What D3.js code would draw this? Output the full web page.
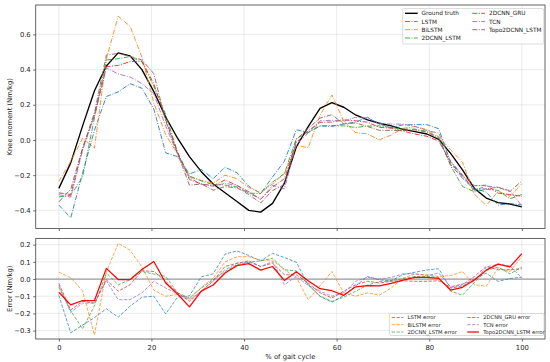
<!DOCTYPE html>
<html><head><meta charset="utf-8">
<script src="https://cdn.jsdelivr.net/npm/d3@7"></script>
<style>
body{margin:0;background:#fff}
svg{display:block}
text{font-family:"DejaVu Sans",sans-serif;fill:#222}
</style>
</head><body>
<svg id="c" width="550" height="362"></svg>
<script>
// ---------------- data ----------------
const gaitPct = d3.range(40).map(i => i * 100 / 39); // sample positions (% of gait cycle)
const groundTruth = [-0.275,-0.13,0.08,0.28,0.42,0.495,0.478,0.40,0.275,0.13,0.01,-0.095,-0.18,-0.25,-0.30,-0.35,-0.40,-0.41,-0.36,-0.245,-0.04,0.076,0.18,0.212,0.186,0.142,0.114,0.095,0.08,0.06,0.047,0.034,0.004,-0.076,-0.17,-0.275,-0.33,-0.356,-0.364,-0.38];
const lstmPred = [-0.37,-0.443,-0.188,0.055,0.247,0.273,0.32,0.294,0.175,-0.073,-0.095,-0.193,-0.167,-0.22,-0.155,-0.186,-0.263,-0.304,-0.21,-0.12,0.058,0.043,0.08,0.077,0.091,0.102,0.129,0.09,0.07,0.086,0.087,0.087,0.064,-0.129,-0.211,-0.274,-0.296,-0.37,-0.361,-0.369];
const bilstmPred = [-0.235,-0.122,0.01,-0.046,0.46,0.703,0.646,0.47,0.21,0.03,-0.08,-0.21,-0.23,-0.245,-0.20,-0.22,-0.27,-0.30,-0.25,-0.191,-0.03,-0.044,0.14,0.256,0.106,0.042,0.034,0.001,0.028,0.066,0.076,0.059,0.019,-0.056,-0.126,-0.308,-0.372,-0.292,-0.32,-0.249];
const cnnLstmPred = [-0.323,-0.315,-0.21,0.125,0.455,0.462,0.474,0.444,0.304,0.145,-0.07,-0.205,-0.232,-0.254,-0.256,-0.267,-0.302,-0.304,-0.239,-0.191,0.008,0.043,0.08,0.082,0.08,0.071,0.079,0.08,0.07,0.062,0.062,0.049,0.014,-0.147,-0.264,-0.295,-0.28,-0.286,-0.334,-0.31];
const cnnGruPred = [-0.30,-0.31,-0.05,0.14,0.416,0.424,0.445,0.448,0.319,0.117,-0.07,-0.225,-0.25,-0.26,-0.227,-0.258,-0.294,-0.337,-0.268,-0.22,-0.015,0.053,0.10,0.102,0.115,0.109,0.101,0.072,0.067,0.05,0.034,0.021,-0.006,-0.124,-0.203,-0.26,-0.257,-0.302,-0.31,-0.32];
const tcnPred = [-0.31,-0.325,-0.06,0.14,0.41,0.375,0.358,0.32,0.262,0.078,-0.08,-0.215,-0.251,-0.263,-0.246,-0.258,-0.302,-0.337,-0.258,-0.278,-0.025,0.039,0.109,0.112,0.106,0.129,0.124,0.095,0.09,0.09,0.077,0.054,0.039,-0.121,-0.198,-0.288,-0.261,-0.269,-0.288,-0.375];
const topoPred = [-0.352,-0.28,-0.045,0.155,0.482,0.492,0.475,0.455,0.377,0.107,-0.077,-0.257,-0.25,-0.285,-0.265,-0.272,-0.31,-0.358,-0.287,-0.253,0.002,0.066,0.124,0.144,0.091,0.097,0.076,0.055,0.055,0.054,0.057,0.044,0.008,-0.14,-0.218,-0.281,-0.278,-0.269,-0.293,-0.232];

const lstmErr = [-0.095,-0.313,-0.268,-0.225,-0.173,-0.222,-0.158,-0.106,-0.10,-0.203,-0.105,-0.098,0.013,0.03,0.145,0.164,0.137,0.106,0.15,0.125,0.098,-0.033,-0.10,-0.135,-0.095,-0.04,0.015,-0.005,-0.01,0.026,0.04,0.053,0.06,-0.053,-0.041,0.001,0.034,-0.014,0.003,0.011];
const bilstmErr = [0.04,0.008,-0.07,-0.326,0.04,0.208,0.168,0.07,-0.065,-0.10,-0.09,-0.115,-0.05,0.005,0.10,0.13,0.13,0.11,0.11,0.054,0.01,-0.12,-0.04,0.044,-0.08,-0.10,-0.08,-0.094,-0.052,0.006,0.029,0.025,0.015,0.02,0.044,-0.033,-0.042,0.064,0.044,0.131];
const cnnLstmErr = [-0.048,-0.185,-0.29,-0.155,0.035,-0.033,-0.004,0.044,0.029,0.015,-0.08,-0.11,-0.052,-0.004,0.044,0.083,0.098,0.106,0.121,0.054,0.048,-0.033,-0.10,-0.13,-0.106,-0.071,-0.035,-0.015,-0.01,0.002,0.015,0.015,0.01,-0.071,-0.094,-0.02,0.05,0.07,0.03,0.07];
const cnnGruErr = [-0.025,-0.18,-0.13,-0.14,-0.004,-0.071,-0.033,0.048,0.044,-0.013,-0.08,-0.13,-0.07,-0.01,0.073,0.092,0.106,0.073,0.092,0.025,0.025,-0.023,-0.08,-0.11,-0.071,-0.033,-0.013,-0.023,-0.013,-0.01,-0.013,-0.013,-0.01,-0.048,-0.033,0.015,0.073,0.054,0.054,0.06];
const tcnErr = [-0.035,-0.195,-0.14,-0.14,-0.01,-0.12,-0.12,-0.08,-0.013,-0.052,-0.09,-0.12,-0.071,-0.013,0.054,0.092,0.098,0.073,0.102,-0.033,0.015,-0.037,-0.071,-0.10,-0.08,-0.013,0.01,0.0,0.01,0.03,0.03,0.02,0.035,-0.045,-0.028,-0.013,0.069,0.087,0.076,0.005];
const topoErr = [-0.077,-0.15,-0.125,-0.125,0.062,-0.003,-0.003,0.055,0.102,-0.023,-0.087,-0.162,-0.07,-0.035,0.035,0.078,0.09,0.052,0.073,-0.008,0.042,-0.01,-0.056,-0.068,-0.095,-0.045,-0.038,-0.04,-0.025,-0.006,0.01,0.01,0.004,-0.064,-0.048,-0.006,0.052,0.087,0.071,0.148];

const xTicks = [0,20,40,60,80,100];
const topTicks = [-0.4,-0.2,0.0,0.2,0.4,0.6];
const botTicks = [-0.3,-0.2,-0.1,0.0,0.1,0.2];

const modelNames = ["LSTM","BiLSTM","2DCNN_LSTM","2DCNN_GRU","TCN","Topo2DCNN_LSTM"];
const modelColors = ["#1f77b4","#ff7f0e","#2ca02c","#d62728","#9467bd","#8c564b"];
const errorNames = ["LSTM error","BiLSTM error","2DCNN_LSTM error","2DCNN_GRU error","TCN error","Topo2DCNN_LSTM error"];
const errorColors = ["#1f77b4","#ff7f0e","#2ca02c","#d62728","#9467bd","#ff0000"];
const preds = [lstmPred,bilstmPred,cnnLstmPred,cnnGruPred,tcnPred,topoPred];
const errs = [lstmErr,bilstmErr,cnnLstmErr,cnnGruErr,tcnErr,topoErr];

// ---------------- layout ----------------
const svg = d3.select("#c");
const L = 35.7, R = 545;
const T1 = 5, B1 = 228.5, T2 = 238.5, B2 = 339;
const x = d3.scaleLinear().domain([-5,105]).range([L,R]);
const yTop = d3.scaleLinear().domain([-0.503,0.767]).range([B1,T1]);
const yBot = d3.scaleLinear().domain([-0.349,0.236]).range([B2,T2]);
const fmt = d3.format(".1f");
const DASHDOT = "5,1.5,1,1.5", DASHED = "3.3,1.5";
const TICK_FS = 6.8, LABEL_FS = 6.8;

function panel(y, T, B, ticks) {
  const g = svg.append("g");
  g.selectAll(null).data(xTicks).join("line")
    .attr("x1", d => x(d)).attr("x2", d => x(d)).attr("y1", T).attr("y2", B)
    .attr("stroke", "#b0b0b0").attr("stroke-opacity", 0.3).attr("stroke-width", 0.8);
  g.selectAll(null).data(ticks).join("line")
    .attr("x1", L).attr("x2", R).attr("y1", d => y(d)).attr("y2", d => y(d))
    .attr("stroke", "#b0b0b0").attr("stroke-opacity", 0.3).attr("stroke-width", 0.8);
  return g;
}
function frame(y, T, B, ticks, showX) {
  const g = svg.append("g");
  const ay = g.append("g").attr("transform", `translate(${L},0)`)
    .call(d3.axisLeft(y).tickValues(ticks).tickFormat(fmt).tickSize(2.5).tickPadding(2.5));
  const ax = g.append("g").attr("transform", `translate(0,${B})`)
    .call(d3.axisBottom(x).tickValues(xTicks).tickFormat(showX ? d3.format("d") : "").tickSize(2.5).tickPadding(3.5));
  [ay, ax].forEach(a => {
    a.select(".domain").remove();
    a.selectAll(".tick line").attr("stroke", "#444").attr("stroke-width", 0.8);
    a.selectAll(".tick text").attr("font-size", TICK_FS).attr("fill", "#222")
      .style("font-family", '"DejaVu Sans",sans-serif');
  });
  g.append("rect").attr("x", L).attr("y", T).attr("width", R - L).attr("height", B - T)
    .attr("fill", "none").attr("stroke", "#555").attr("stroke-width", 0.9);
}

// ---------------- top panel ----------------
panel(yTop, T1, B1, topTicks);
const lineTop = d3.line().x((d, i) => x(gaitPct[i])).y(d => yTop(d));
const gTop = svg.append("g");
gTop.append("path").attr("d", lineTop(groundTruth)).attr("fill", "none")
  .attr("stroke", "#000").attr("stroke-width", 1.35).attr("stroke-linejoin", "round");
preds.forEach((p, k) => {
  gTop.append("path").attr("d", lineTop(p)).attr("fill", "none")
    .attr("stroke", modelColors[k]).attr("stroke-opacity", 0.85).attr("stroke-width", 1)
    .attr("stroke-dasharray", DASHDOT);
});
frame(yTop, T1, B1, topTicks, false);

// ---------------- bottom panel ----------------
panel(yBot, T2, B2, botTicks);
const gBot = svg.append("g");
gBot.append("line").attr("x1", L).attr("x2", R).attr("y1", yBot(0)).attr("y2", yBot(0))
  .attr("stroke", "#888").attr("stroke-opacity", 0.8).attr("stroke-width", 1.2);
const lineBot = d3.line().x((d, i) => x(gaitPct[i])).y(d => yBot(d));
errs.forEach((e, k) => {
  const solid = k === 5;
  gBot.append("path").attr("d", lineBot(e)).attr("fill", "none")
    .attr("stroke", errorColors[k])
    .attr("stroke-opacity", solid ? 1 : 0.7)
    .attr("stroke-width", solid ? 1.25 : 1)
    .attr("stroke-dasharray", solid ? null : DASHED)
    .attr("stroke-linejoin", "round");
});
frame(yBot, T2, B2, botTicks, true);

// ---------------- labels ----------------
svg.append("text").attr("transform", `translate(12,${(T1 + B1) / 2}) rotate(-90)`)
  .attr("text-anchor", "middle").attr("font-size", LABEL_FS).text("Knee moment (Nm/kg)");
svg.append("text").attr("transform", `translate(12,${(T2 + B2) / 2}) rotate(-90)`)
  .attr("text-anchor", "middle").attr("font-size", LABEL_FS).text("Error (Nm/kg)");
svg.append("text").attr("x", (L + R) / 2).attr("y", 359)
  .attr("text-anchor", "middle").attr("font-size", LABEL_FS).text("% of gait cycle");

// ---------------- legends ----------------
function legend(box, items, fs) {
  const g = svg.append("g");
  g.append("rect").attr("x", box.x).attr("y", box.y).attr("width", box.w).attr("height", box.h)
    .attr("rx", 1.5).attr("fill", "#fff").attr("fill-opacity", 0.8)
    .attr("stroke", "#cfcfcf").attr("stroke-width", 0.7);
  items.forEach(it => {
    g.append("line").attr("x1", it.hx).attr("x2", it.hx + box.hl).attr("y1", it.y).attr("y2", it.y)
      .attr("stroke", it.color).attr("stroke-opacity", it.op).attr("stroke-width", it.w)
      .attr("stroke-dasharray", it.dash);
    g.append("text").attr("x", it.tx).attr("y", it.y).attr("dy", "0.35em")
      .attr("font-size", fs).text(it.label);
  });
}
const topRows = [13.3, 21.5, 29.7, 38];
const topItems = [{label: "Ground truth", color: "#000", op: 1, w: 1.35, dash: null}]
  .concat(modelNames.map((n, k) => ({label: n, color: modelColors[k], op: 0.85, w: 1, dash: DASHDOT})));
topItems.forEach((it, k) => {
  const col = k < 4 ? 0 : 1, row = k < 4 ? k : k - 4;
  it.y = topRows[row];
  it.hx = col === 0 ? 405 : 472.3;
  it.tx = col === 0 ? 421.5 : 489;
});
legend({x: 402.7, y: 8.5, w: 141, h: 35.5, hl: 12.7}, topItems, 5.8);

const botRows = [317.5, 324.7, 332];
const botItems = errorNames.map((n, k) => ({label: n, color: errorColors[k], op: k === 5 ? 1 : 0.7,
  w: k === 5 ? 1.25 : 1, dash: k === 5 ? null : DASHED}));
botItems.forEach((it, k) => {
  const col = k < 3 ? 0 : 1, row = k < 3 ? k : k - 3;
  it.y = botRows[row];
  it.hx = col === 0 ? 391.7 : 467.3;
  it.tx = col === 0 ? 407.5 : 483.3;
});
legend({x: 389.5, y: 313.5, w: 154.5, h: 22, hl: 11.6}, botItems, 5.2);
</script>
</body></html>
